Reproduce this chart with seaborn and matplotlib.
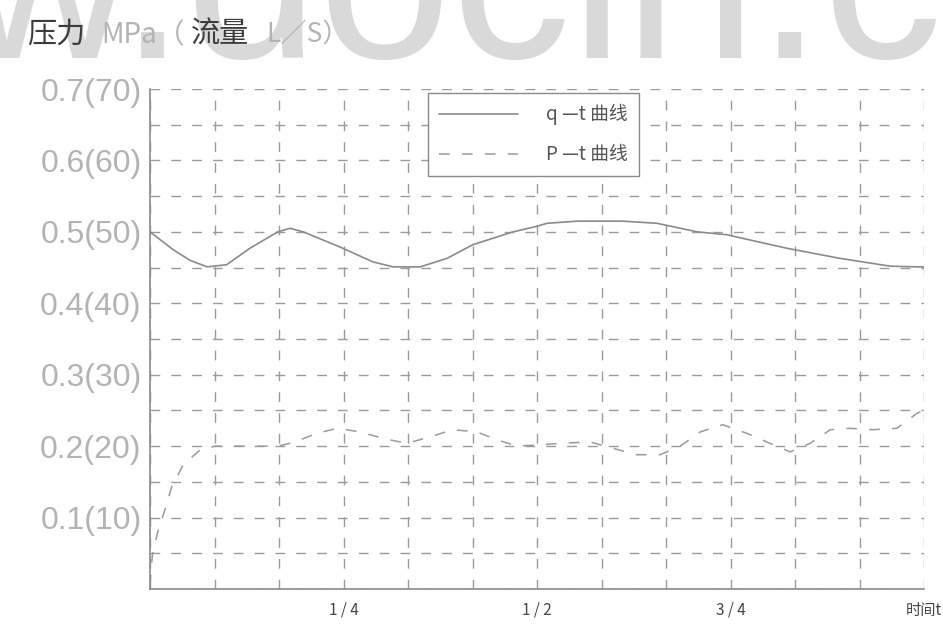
import matplotlib
matplotlib.use("Agg")
import matplotlib.pyplot as plt
import seaborn as sns
import pandas as pd

# ---- data (time as fraction of full period, values on the pressure scale) ----
q_t = [0.0, 0.030, 0.052, 0.074, 0.099, 0.129, 0.165, 0.181, 0.198, 0.245, 0.288,
       0.314, 0.349, 0.384, 0.417, 0.469, 0.497, 0.513, 0.552, 0.611, 0.655, 0.707,
       0.745, 0.823, 0.891, 0.956, 0.991, 1.0]
q_val = [0.500, 0.475, 0.460, 0.451, 0.454, 0.477, 0.500, 0.505, 0.500, 0.479, 0.458,
         0.451, 0.451, 0.463, 0.482, 0.500, 0.507, 0.512, 0.515, 0.515, 0.512, 0.500,
         0.496, 0.477, 0.463, 0.452, 0.451, 0.451]

p_t = [0.0, 0.003, 0.010, 0.019, 0.028, 0.043, 0.065, 0.084, 0.129, 0.165, 0.185,
       0.216, 0.242, 0.271, 0.304, 0.332, 0.362, 0.391, 0.422, 0.448, 0.474, 0.534,
       0.568, 0.598, 0.629, 0.659, 0.685, 0.711, 0.740, 0.771, 0.801, 0.827, 0.853,
       0.879, 0.904, 0.934, 0.965, 0.991, 1.0]
p_val = [0.005, 0.047, 0.080, 0.110, 0.143, 0.174, 0.195, 0.200, 0.200, 0.200, 0.205,
         0.218, 0.225, 0.220, 0.210, 0.204, 0.213, 0.223, 0.220, 0.209, 0.200, 0.204,
         0.206, 0.197, 0.188, 0.188, 0.200, 0.220, 0.230, 0.218, 0.204, 0.192, 0.204,
         0.223, 0.225, 0.223, 0.225, 0.246, 0.250]

y_ticks = [0.1, 0.2, 0.3, 0.4, 0.5, 0.6, 0.7]
y_labels = ["0.1(10)", "0.2(20)", "0.3(30)", "0.4(40)", "0.5(50)", "0.6(60)", "0.7(70)"]
x_ticks = [0.25, 0.5, 0.75, 1.0]
x_labels = ["1 / 4", "1 / 2", "3 / 4", "时间t"]
legend_labels = ["q —t 曲线", "P —t 曲线"]

sns.set_theme(style="white")
plt.rcParams["font.family"] = ["Noto Sans CJK SC", "DejaVu Sans"]

fig = plt.figure(figsize=(9.43, 6.24), dpi=100)
ax = fig.add_axes([150 / 943, 1 - 589 / 624, (924 - 150) / 943, (589 - 89) / 624])
ax.patch.set_alpha(0)

# watermark (faint large text behind everything)
fig.text(-385 / 943, 1 - 58 / 624, "www.docin.com", fontsize=172, color="#d9d9d9",
         family="Liberation Sans", ha="left", va="baseline", zorder=-5)

dq = pd.DataFrame({"t": q_t, "v": q_val})
dp = pd.DataFrame({"t": p_t, "v": p_val})
sns.lineplot(data=dq, x="t", y="v", ax=ax, color="#8a8a8a", linewidth=1.2,
             estimator=None, sort=False, label=legend_labels[0])
sns.lineplot(data=dp, x="t", y="v", ax=ax, color="#9a9a9a", linewidth=1.1,
             estimator=None, sort=False, linestyle=(0, (7, 8)), label=legend_labels[1])

ax.set_xlim(0, 1)
ax.set_ylim(0, 0.7)
ax.set_xticks([i / 12 for i in range(13)], minor=True)
ax.set_yticks([i * 0.05 for i in range(15)], minor=True)
ax.set_xticks(x_ticks)
ax.set_xticklabels(x_labels, fontsize=11, color="#444444")
ax.set_yticks(y_ticks)
ax.set_yticklabels(y_labels, fontsize=23, color="#b3b3b3", family="Liberation Sans")
ax.tick_params(axis="both", which="both", length=0)
ax.tick_params(axis="x", pad=9)
ax.tick_params(axis="y", pad=6)
ax.set_xlabel("")
ax.set_ylabel("")

ax.grid(True, which="both", color="#9a9a9a", linewidth=1.0, linestyle=(0, (7, 8)))
for s in ["top", "right"]:
    ax.spines[s].set_visible(False)
for s in ["left", "bottom"]:
    ax.spines[s].set_color("#8a8a8a")
    ax.spines[s].set_linewidth(1.2)

leg = ax.legend(loc="upper left", bbox_to_anchor=((428 - 150) / 774, 1 - (93 - 89) / 500),
                frameon=True, fancybox=False, fontsize=13.5, handlelength=4.2,
                handletextpad=1.5, borderpad=0.6, labelspacing=1.0, borderaxespad=0)
leg.get_frame().set_edgecolor("#8a8a8a")
leg.get_frame().set_linewidth(1.0)
leg.get_frame().set_facecolor("white")
leg.get_frame().set_alpha(1)
for t in leg.get_texts():
    t.set_color("#555555")

# title with mixed shades
fig.text(27 / 943, 1 - 35 / 624, "压力", fontsize=21, color="#3c3c3c", va="center", zorder=5)
fig.text(101 / 943, 1 - 35 / 624, "MPa（", fontsize=20, color="#b3b3b3", va="center", zorder=5)
fig.text(191 / 943, 1 - 35 / 624, "流量", fontsize=21, color="#3c3c3c", va="center", zorder=5)
fig.text(266 / 943, 1 - 35 / 624, "L／S）", fontsize=19, color="#b3b3b3", va="center", zorder=5)

fig.savefig("out.png", dpi=100)
